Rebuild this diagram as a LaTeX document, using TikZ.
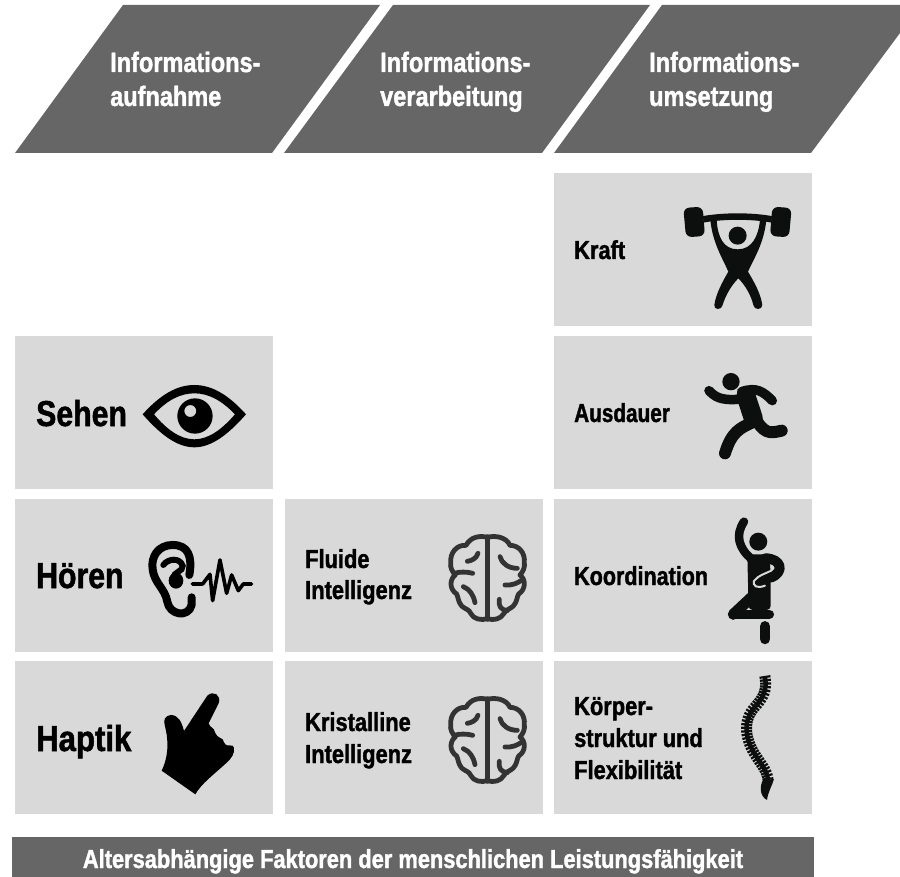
\documentclass[tikz,border=0pt]{standalone}
\usepackage{fontspec}
\usetikzlibrary{decorations.markings}
\setmainfont{Liberation Sans}[FakeStretch=0.84,BoldFont={Liberation Sans Bold},BoldFeatures={FakeBold=1.4}]
\definecolor{darkgrey}{HTML}{666666}
\definecolor{lightgrey}{HTML}{D9D9D9}
\definecolor{iconblack}{HTML}{0D0E0E}
\definecolor{braingrey}{HTML}{333333}
\tikzset{
  cell/.style={fill=lightgrey,draw=none,inner sep=0pt,anchor=north west,minimum width=258pt,minimum height=153pt},
  headband/.style={fill=darkgrey,draw=none},
  headtxt/.style={text=white,font=\bfseries\fontsize{28}{34}\selectfont,anchor=base west,inner sep=0pt,align=left},
  bigtxt/.style={text=black,font=\bfseries\fontsize{36}{42}\selectfont,anchor=base west,inner sep=0pt},
  midtxt/.style={text=black,font=\bfseries\fontsize{26}{32}\selectfont,anchor=base west,inner sep=0pt,align=left},
  iconz/.style={shift={(#1)},x=0.3333pt,y=-0.3333pt},
  limb/.style={draw=iconblack,line cap=round,line join=round},
  brainline/.style={draw=braingrey,line width=4.8pt,line cap=round,line join=round},
}
\newcommand{\brainicon}{%
  \draw[brainline] (172,50) -- (172,298);
  \draw[brainline] (172,52) .. controls (150,46) and (122,50) .. (108,76) .. controls (80,74) and (60,98) .. (62,128) .. controls (60,142) and (66,154) .. (76,165) .. controls (58,178) and (58,208) .. (80,222) .. controls (85,232) and (84,245) .. (95,258) .. controls (106,268) and (118,268) .. (122,280) .. controls (130,298) and (155,302) .. (172,296);
  \draw[brainline] (172,52) .. controls (195,46) and (228,50) .. (240,76) .. controls (266,76) and (286,98) .. (283,128) .. controls (285,142) and (280,154) .. (270,165) .. controls (288,178) and (288,208) .. (266,222) .. controls (260,232) and (262,245) .. (250,258) .. controls (240,268) and (228,268) .. (222,280) .. controls (212,298) and (190,302) .. (172,296);
  \draw[brainline] (112,124) .. controls (125,122) and (140,115) .. (144,100);
  \draw[brainline] (72,160) .. controls (90,155) and (110,155) .. (128,160);
  \draw[brainline] (100,200) .. controls (120,208) and (130,225) .. (135,248);
  \draw[brainline] (210,110) .. controls (215,130) and (235,145) .. (262,145);
  \draw[brainline] (225,195) .. controls (245,197) and (262,190) .. (276,180);
  \draw[brainline] (208,238) .. controls (205,258) and (212,270) .. (232,272);
}
\newcommand{\spinecurve}{(765,677) .. controls (767,690) and (764,697) .. (754,708) .. controls (747,716) and (744,728) .. (749,742) .. controls (754,758) and (768,768) .. (768,781)}
\begin{document}
\begin{tikzpicture}[x=1pt,y=-1pt]
\useasboundingbox (0,0) rectangle (900,877);
% header bands
\fill[headband] (123,5) -- (380,5) -- (272,153) -- (15,153) -- cycle;
\fill[headband] (393,5) -- (650,5) -- (542,153) -- (284,153) -- cycle;
\fill[headband] (662,5) -- (900,5) -- (900,33) -- (811,153) -- (554,153) -- cycle;
\node[headtxt] (h1) at (110,72) {Informations-};
\node[headtxt] (h1b) at (110,106) {aufnahme};
\node[headtxt] (h2) at (380,72) {Informations-};
\node[headtxt] (h2b) at (380,106) {verarbeitung};
\node[headtxt] (h3) at (649,72) {Informations-};
\node[headtxt] (h3b) at (649,106) {umsetzung};
% cells
\node[cell] (kraft) at (554,173) {};
\node[cell] (ausdauer) at (554,336) {};
\node[cell] (koord) at (554,499) {};
\node[cell] (koerper) at (554,661) {};
\node[cell] (sehen) at (15,336) {};
\node[cell] (hoeren) at (15,499) {};
\node[cell] (haptik) at (15,661) {};
\node[cell] (fluid) at (285,499) {};
\node[cell] (kristall) at (285,661) {};
% bottom bar
\node[fill=darkgrey,inner sep=0pt,anchor=north west,minimum width=802pt,minimum height=40pt] (bar) at (12,837) {};
\node[text=white,font=\bfseries\fontsize{26}{32}\selectfont,anchor=base,inner sep=0pt] (bartxt) at (413,868) {Altersabhängige Faktoren der menschlichen Leistungsfähigkeit};
% labels
\node[bigtxt] (t1) at (36,426) {Sehen};
\node[bigtxt] (t2) at (36,588) {Hören};
\node[bigtxt] (t3) at (36,751) {\scalebox{1.03}[1]{Haptik}};
\node[midtxt] (t4) at (305,568) {Fluide};
\node[midtxt] (t4b) at (305,599) {Intelligenz};
\node[midtxt] (t5) at (305,731) {Kristalline};
\node[midtxt] (t5b) at (305,763) {Intelligenz};
\node[midtxt] (t6) at (574,259) {Kraft};
\node[midtxt] (t7) at (574,422) {\scalebox{0.95}[1]{Ausdauer}};
\node[midtxt] (t8) at (574,585) {\scalebox{0.985}[1]{Koordination}};
\node[midtxt] (t9) at (574,715) {Körper-};
\node[midtxt] (t9b) at (574,747) {struktur und};
\node[midtxt] (t9c) at (574,779) {Flexibilität};
% weightlifter
\begin{scope}[iconz={550,170}]
  \fill[iconblack,rounded corners=6pt] (400,114) -- (458,110) -- (465,198) -- (408,202) -- cycle;
  \fill[iconblack,rounded corners=6pt] (667,110) -- (725,114) -- (717,202) -- (660,198) -- cycle;
  \draw[iconblack,line width=6.5pt] (460,148) .. controls (520,137) and (605,137) .. (665,148);
  \fill[iconblack] (563,197) circle[radius=27];
  \fill[iconblack] (481,150) -- (500,150) .. controls (503,200) and (520,238) .. (563,238) .. controls (606,238) and (625,200) .. (630,150) -- (649,150) .. controls (642,220) and (612,265) .. (594,305) .. controls (612,335) and (632,370) .. (637,405) .. controls (637,421) and (612,421) .. (610,405) .. controls (603,375) and (585,345) .. (565,325) .. controls (545,345) and (527,375) .. (518,405) .. controls (516,421) and (491,421) .. (493,405) .. controls (498,370) and (518,335) .. (535,305) .. controls (518,265) and (488,220) .. (481,150) -- cycle;
\end{scope}
% runner
\begin{scope}[iconz={550,170}]
  \fill[iconblack] (543,635) circle[radius=26];
  \draw[limb,line width=9.5pt] (477,662) .. controls (495,680) and (510,692) .. (565,688);
  \draw[limb,line width=9.5pt] (575,665) .. controls (620,650) and (640,665) .. (667,692);
  \draw[limb,line width=19pt] (588,678) -- (610,745);
  \draw[limb,line width=12pt] (605,758) .. controls (570,775) and (545,785) .. (525,850);
  \draw[limb,line width=12pt] (610,735) .. controls (640,790) and (655,792) .. (695,782);
\end{scope}
% dancer
\begin{scope}[iconz={550,495}]
  \fill[iconblack] (625,140) circle[radius=27];
  \draw[limb,line width=8.5pt] (582,80) .. controls (555,120) and (565,160) .. (608,195);
  \fill[iconblack,rounded corners=4pt] (592,178) -- (660,178) -- (662,280) -- (662,345) -- (596,345) -- cycle;
  \draw[limb,line width=11pt] (550,358) -- (612,300);
  \draw[draw=lightgrey,line width=2pt,line cap=round] (675,222) .. controls (650,235) and (625,240) .. (612,258) .. controls (608,272) and (620,282) .. (645,272);
  \draw[limb,line width=10pt] (645,190) .. controls (695,190) and (705,232) .. (662,248);
  \draw[limb,line width=9.5pt] (552,358) -- (658,358);
  \draw[limb,line width=10.5pt] (645,394) -- (645,432);
\end{scope}
% spine
\path[decorate,decoration={markings,mark=between positions 0 and 1 step 3.3pt with {\draw[iconblack,line width=2.2pt] (0,-5.5pt) -- (0,5.5pt);}}]
  \spinecurve;
\draw[iconblack,line width=4.5pt] \spinecurve;
\fill[iconblack] (774,779) .. controls (772,786) and (768,792) .. (767,800) .. controls (759,796) and (760,785) .. (763,780) -- cycle;
% eye
\begin{scope}[iconz={10,330}]
  \fill[black,even odd rule] (398,253) .. controls (450,195) and (500,165) .. (553,165) .. controls (606,165) and (656,195) .. (708,253) .. controls (656,312) and (606,352) .. (553,352) .. controls (500,352) and (450,312) .. (398,253) -- cycle
   (432,253) .. controls (470,212) and (510,190) .. (553,190) .. controls (596,190) and (636,212) .. (675,253) .. controls (636,298) and (596,328) .. (553,328) .. controls (510,328) and (470,298) .. (432,253) -- cycle;
  \fill[black,even odd rule] (555,258) circle[radius=53] (541,243) circle[radius=18];
\end{scope}
% ear
\begin{scope}[iconz={10,330}]
  \draw[black,line width=8pt,line cap=round,line join=round] (538,735) .. controls (548,680) and (535,645) .. (488,645) .. controls (445,645) and (422,680) .. (428,718) .. controls (433,760) and (465,775) .. (472,815) .. controls (478,855) and (535,865) .. (545,825) -- (545,802);
  \draw[black,line width=6pt,line cap=round] (460,705) .. controls (475,685) and (510,682) .. (518,708) .. controls (520,725) and (490,725) .. (490,745);
  \fill[black] (498,752) ellipse[x radius=22,y radius=24];
  \draw[black,line width=3.6pt,line join=round,line cap=round] (547,762) -- (578,762) -- (600,733) -- (608,812) -- (630,690) -- (650,790) -- (665,735) -- (685,782) -- (700,762) -- (725,762);
\end{scope}
% hand
\begin{scope}[iconz={10,655}]
  \fill[black] (455,347) -- (556,418) .. controls (575,385) and (610,360) .. (648,325) .. controls (665,310) and (675,295) .. (672,278) .. controls (668,262) and (652,282) .. (642,262) .. controls (640,245) and (625,255) .. (615,232) .. controls (612,215) and (600,220) .. (596,205) -- (626,145) .. controls (635,120) and (610,105) .. (592,122) -- (522,228) .. controls (515,200) and (505,180) .. (482,180) .. controls (465,182) and (460,195) .. (464,210) .. controls (475,250) and (478,300) .. (455,347) -- cycle;
\end{scope}
% brains
\begin{scope}[iconz={430,520}] \brainicon \end{scope}
\begin{scope}[iconz={430,682}] \brainicon \end{scope}
\end{tikzpicture}
\end{document}
